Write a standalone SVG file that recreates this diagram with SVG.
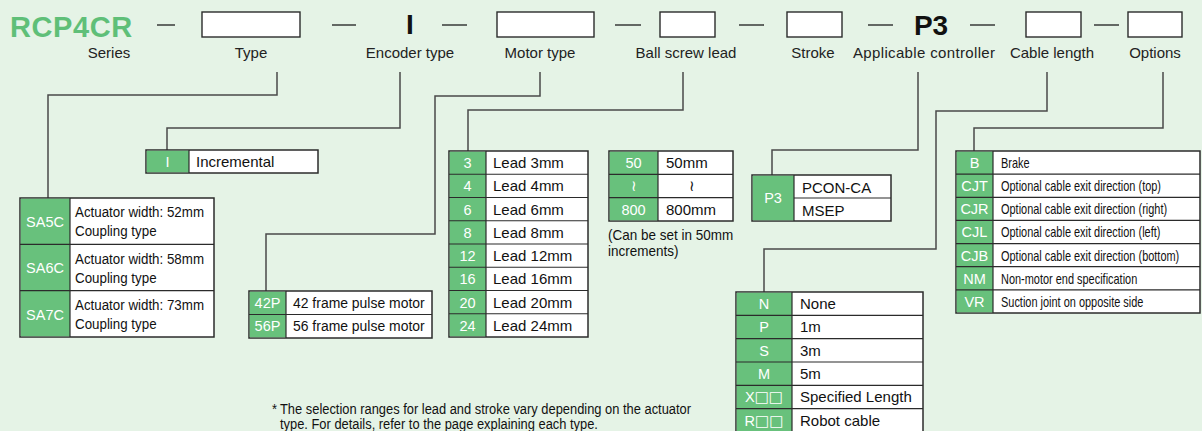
<svg xmlns="http://www.w3.org/2000/svg" width="1202" height="431" viewBox="0 0 1202 431">
<style>
text{font-family:"Liberation Sans",Arial,sans-serif;}
.hb{fill:#fff;stroke:#2b2b2b;stroke-width:1.4;}
.dash{stroke:#2b2b2b;stroke-width:1.4;}
.hl{font-size:15px;fill:#222;text-anchor:middle;}
.big{font-size:28px;font-weight:bold;fill:#111;text-anchor:middle;}
.tb{fill:#fff;stroke:#2b2b2b;stroke-width:1.5;}
.gc{fill:#68c17c;}
.rl{stroke:#2b2b2b;stroke-width:1.2;}
.code{font-size:14.5px;fill:#fff;text-anchor:middle;}
.desc{font-size:15px;fill:#111;}
.cond{font-size:15px;fill:#111;}
.sq{font-family:"DejaVu Sans",sans-serif;font-size:15px;}
.ln{fill:none;stroke:#4a4a4a;stroke-width:1.5;}
</style>
<rect x="0" y="0" width="1202" height="431" fill="#e5f3e6"/>

<g id="header">
<text x="10" y="37" font-size="29" font-weight="bold" fill="#5fbf78" letter-spacing="0.6">RCP4CR</text>
<line class="dash" x1="157" y1="25" x2="175" y2="25"/>
<rect class="hb" x="202" y="12" width="98" height="25"/>
<line class="dash" x1="332" y1="25" x2="356" y2="25"/>
<text class="big" x="410" y="34">I</text>
<line class="dash" x1="442" y1="25" x2="467" y2="25"/>
<rect class="hb" x="497" y="12" width="97" height="25"/>
<line class="dash" x1="615" y1="25" x2="641" y2="25"/>
<rect class="hb" x="660" y="12" width="55" height="25"/>
<line class="dash" x1="739" y1="25" x2="764" y2="25"/>
<rect class="hb" x="787" y="12" width="55" height="25"/>
<line class="dash" x1="868" y1="25" x2="893" y2="25"/>
<text class="big" x="931" y="35" font-size="27">P3</text>
<line class="dash" x1="970" y1="25" x2="995" y2="25"/>
<rect class="hb" x="1026" y="12" width="55" height="25"/>
<line class="dash" x1="1094" y1="25" x2="1119" y2="25"/>
<rect class="hb" x="1128" y="12" width="54" height="25"/>
<text class="hl" x="109" y="57.5">Series</text>
<text class="hl" x="251" y="57.5">Type</text>
<text class="hl" x="410" y="57.5">Encoder type</text>
<text class="hl" x="540" y="57.5">Motor type</text>
<text class="hl" x="686" y="57.5">Ball screw lead</text>
<text class="hl" x="813" y="57.5">Stroke</text>
<text class="hl" x="924" y="57.5" textLength="142">Applicable controller</text>
<text class="hl" x="1052" y="57.5">Cable length</text>
<text class="hl" x="1155" y="57.5">Options</text>
</g>

<g id="connectors">
<path class="ln" d="M277,72 V95 H48 V198"/>
<path class="ln" d="M400,72 V128 H167 V150"/>
<path class="ln" d="M540,72 V96 H435 V234 H266 V291"/>
<path class="ln" d="M683,72 V110 H468 V151"/>
<path class="ln" d="M918,72 V150 H772 V175"/>
<path class="ln" d="M1047,72 V111 H936 V249 H764 V292"/>
<path class="ln" d="M1163,72 V128 H974 V151"/>
</g>

<g id="encoder-table">
<rect class="tb" x="146" y="150" width="172" height="23"/>
<rect class="gc" x="146.75" y="150.75" width="42.25" height="21.5"/>
<line class="rl" x1="189" y1="150" x2="189" y2="173"/>
<text class="code" x="167.5" y="167">I</text>
<text class="desc" x="196" y="167" font-size="15.5">Incremental</text>
</g>

<g id="type-table">
<rect class="tb" x="20" y="198" width="194" height="139"/>
<rect class="gc" x="20.75" y="198.75" width="49.25" height="137.5"/>
<line class="rl" x1="70" y1="198" x2="70" y2="337"/>
<line class="rl" x1="20" y1="244.3" x2="214" y2="244.3"/>
<line class="rl" x1="20" y1="290.7" x2="214" y2="290.7"/>
<text class="code" x="45" y="226.5">SA5C</text>
<text class="code" x="45" y="273">SA6C</text>
<text class="code" x="45" y="319.5">SA7C</text>
<text class="cond" transform="translate(75,217) scale(0.89,1)">Actuator width: 52mm</text>
<text class="cond" transform="translate(75,236) scale(0.89,1)">Coupling type</text>
<text class="cond" transform="translate(75,263.5) scale(0.89,1)">Actuator width: 58mm</text>
<text class="cond" transform="translate(75,282.5) scale(0.89,1)">Coupling type</text>
<text class="cond" transform="translate(75,310) scale(0.89,1)">Actuator width: 73mm</text>
<text class="cond" transform="translate(75,329) scale(0.89,1)">Coupling type</text>
</g>

<g id="motor-table">
<rect class="tb" x="249" y="291" width="183" height="47"/>
<rect class="gc" x="249.75" y="291.75" width="36.25" height="45.5"/>
<line class="rl" x1="286" y1="291" x2="286" y2="338"/>
<line class="rl" x1="249" y1="314.5" x2="432" y2="314.5"/>
<text class="code" x="267.5" y="308">42P</text>
<text class="code" x="267.5" y="331">56P</text>
<text class="desc" transform="translate(293,308) scale(0.93,1)" font-size="14.5">42 frame pulse motor</text>
<text class="desc" transform="translate(293,331) scale(0.93,1)" font-size="14.5">56 frame pulse motor</text>
</g>

<g id="lead-table">
<rect class="tb" x="449" y="151" width="139" height="186"/>
<rect class="gc" x="449.75" y="151.75" width="36.25" height="184.5"/>
<line class="rl" x1="486" y1="151" x2="486" y2="337"/>
<line class="rl" x1="449" y1="174.25" x2="588" y2="174.25"/>
<line class="rl" x1="449" y1="197.5" x2="588" y2="197.5"/>
<line class="rl" x1="449" y1="220.75" x2="588" y2="220.75"/>
<line class="rl" x1="449" y1="244" x2="588" y2="244"/>
<line class="rl" x1="449" y1="267.25" x2="588" y2="267.25"/>
<line class="rl" x1="449" y1="290.5" x2="588" y2="290.5"/>
<line class="rl" x1="449" y1="313.75" x2="588" y2="313.75"/>
<text class="code" x="467.5" y="168">3</text>
<text class="code" x="467.5" y="191.25">4</text>
<text class="code" x="467.5" y="214.5">6</text>
<text class="code" x="467.5" y="237.75">8</text>
<text class="code" x="467.5" y="261">12</text>
<text class="code" x="467.5" y="284.25">16</text>
<text class="code" x="467.5" y="307.5">20</text>
<text class="code" x="467.5" y="330.75">24</text>
<text class="desc" x="493" y="168">Lead 3mm</text>
<text class="desc" x="493" y="191.25">Lead 4mm</text>
<text class="desc" x="493" y="214.5">Lead 6mm</text>
<text class="desc" x="493" y="237.75">Lead 8mm</text>
<text class="desc" x="493" y="261">Lead 12mm</text>
<text class="desc" x="493" y="284.25">Lead 16mm</text>
<text class="desc" x="493" y="307.5">Lead 20mm</text>
<text class="desc" x="493" y="330.75">Lead 24mm</text>
</g>

<g id="stroke-table">
<rect class="tb" x="609" y="151" width="124" height="70"/>
<rect class="gc" x="609.75" y="151.75" width="48.25" height="68.5"/>
<line class="rl" x1="658" y1="151" x2="658" y2="221"/>
<line class="rl" x1="609" y1="174.3" x2="733" y2="174.3"/>
<line class="rl" x1="609" y1="197.7" x2="733" y2="197.7"/>
<text class="code" x="633.5" y="168">50</text>
<text class="code" x="633.5" y="191" font-size="11" font-family="DejaVu Sans,sans-serif">≀</text>
<text class="code" x="633.5" y="214.5">800</text>
<text class="desc" x="666" y="168">50mm</text>
<text class="desc" x="692" y="191" font-size="11" text-anchor="middle" font-family="DejaVu Sans,sans-serif">≀</text>
<text class="desc" x="666" y="214.5">800mm</text>
<text class="cond" font-size="13.5" transform="translate(608,240) scale(0.9,1)">(Can be set in 50mm</text>
<text class="cond" font-size="13.5" transform="translate(608,256) scale(0.9,1)">increments)</text>
</g>

<g id="controller-table">
<rect class="tb" x="752" y="175" width="139" height="46"/>
<rect class="gc" x="752.75" y="175.75" width="41.25" height="44.5"/>
<line class="rl" x1="794" y1="175" x2="794" y2="221"/>
<line class="rl" x1="794" y1="198" x2="891" y2="198"/>
<text class="code" x="773" y="203">P3</text>
<text class="desc" x="802" y="192.5" font-size="14.5">PCON-CA</text>
<text class="desc" x="802" y="215.5" font-size="14.5">MSEP</text>
</g>

<g id="options-table">
<rect class="tb" x="956" y="151" width="244" height="162"/>
<rect class="gc" x="956.75" y="151.75" width="36.25" height="160.5"/>
<line class="rl" x1="993" y1="151" x2="993" y2="313"/>
<line class="rl" x1="956" y1="174.14" x2="1200" y2="174.14"/>
<line class="rl" x1="956" y1="197.29" x2="1200" y2="197.29"/>
<line class="rl" x1="956" y1="220.43" x2="1200" y2="220.43"/>
<line class="rl" x1="956" y1="243.57" x2="1200" y2="243.57"/>
<line class="rl" x1="956" y1="266.71" x2="1200" y2="266.71"/>
<line class="rl" x1="956" y1="289.86" x2="1200" y2="289.86"/>
<text class="code" x="974.5" y="168" font-size="14">B</text>
<text class="code" x="974.5" y="191.14" font-size="14">CJT</text>
<text class="code" x="974.5" y="214.29" font-size="14">CJR</text>
<text class="code" x="974.5" y="237.43" font-size="14">CJL</text>
<text class="code" x="974.5" y="260.57" font-size="14">CJB</text>
<text class="code" x="974.5" y="283.71" font-size="14">NM</text>
<text class="code" x="974.5" y="306.86" font-size="14">VR</text>
<text class="cond" transform="translate(1001,168) scale(0.73,1)">Brake</text>
<text class="cond" transform="translate(1001,191.14) scale(0.73,1)">Optional cable exit direction (top)</text>
<text class="cond" transform="translate(1001,214.29) scale(0.73,1)">Optional cable exit direction (right)</text>
<text class="cond" transform="translate(1001,237.43) scale(0.73,1)">Optional cable exit direction (left)</text>
<text class="cond" transform="translate(1001,260.57) scale(0.73,1)">Optional cable exit direction (bottom)</text>
<text class="cond" transform="translate(1001,283.71) scale(0.73,1)">Non-motor end specification</text>
<text class="cond" transform="translate(1001,306.86) scale(0.73,1)">Suction joint on opposite side</text>
</g>

<g id="cable-table">
<rect class="tb" x="736" y="292" width="187" height="142"/>
<rect class="gc" x="736.75" y="292.75" width="55.25" height="140.5"/>
<line class="rl" x1="792" y1="292" x2="792" y2="434"/>
<line class="rl" x1="736" y1="315.33" x2="923" y2="315.33"/>
<line class="rl" x1="736" y1="338.67" x2="923" y2="338.67"/>
<line class="rl" x1="736" y1="362" x2="923" y2="362"/>
<line class="rl" x1="736" y1="385.33" x2="923" y2="385.33"/>
<line class="rl" x1="736" y1="408.67" x2="923" y2="408.67"/>
<text class="code" x="764" y="309">N</text>
<text class="code" x="764" y="332.33">P</text>
<text class="code" x="764" y="355.67">S</text>
<text class="code" x="764" y="379">M</text>
<text class="code" x="764" y="402.33">X<tspan class="sq">□□</tspan></text>
<text class="code" x="764" y="425.67">R<tspan class="sq">□□</tspan></text>
<text class="desc" x="800" y="309">None</text>
<text class="desc" x="800" y="332.33">1m</text>
<text class="desc" x="800" y="355.67">3m</text>
<text class="desc" x="800" y="379">5m</text>
<text class="desc" x="800" y="402.33">Specified Length</text>
<text class="desc" x="800" y="425.67">Robot cable</text>
</g>

<g id="footnote">
<text class="cond" font-size="13" transform="translate(280,414) scale(0.86,1)"><tspan x="-9.3" y="0">*</tspan><tspan x="0" y="0">The selection ranges for lead and stroke vary depending on the actuator</tspan><tspan x="0" y="15">type. For details, refer to the page explaining each type.</tspan></text>
</g>
</svg>
